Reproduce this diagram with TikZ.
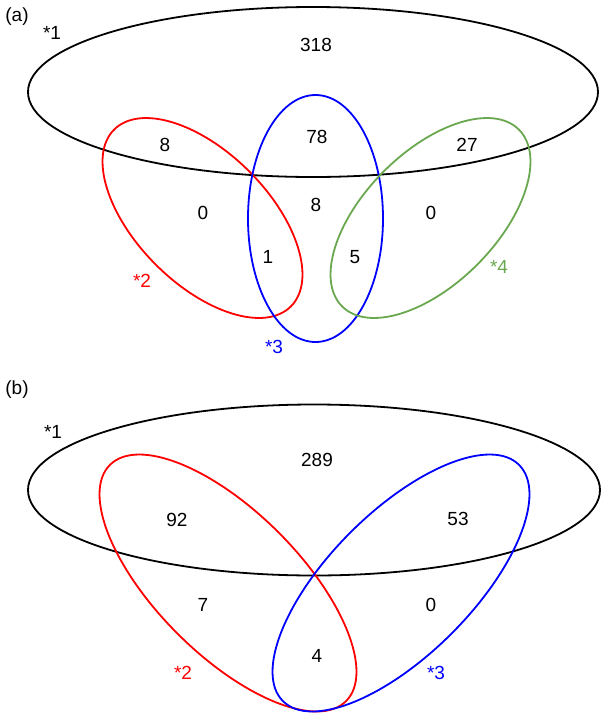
\documentclass[tikz,border=0pt]{standalone}
\usepackage{fontspec}
\setmainfont{Liberation Sans}
\definecolor{vgreen}{RGB}{106,168,79}
\begin{document}
\begin{tikzpicture}[x=1pt,y=1pt,
  venn/.style={line width=1.8pt},
  lbl/.style={font=\fontsize{19}{22}\selectfont, inner sep=0pt}]
\useasboundingbox (0,0) rectangle (602,-713);
% ---------- panel (a)
\node[lbl] (pa) at (17,-17) {(a)};
\draw[venn, black] (313,-92) ellipse (285 and 85);
\draw[venn, red, rotate around={-45:(202.5,-218)}] (202.5,-218) ellipse (125 and 66);
\draw[venn, blue] (315.5,-218.5) ellipse (67.5 and 123.5);
\draw[venn, vgreen, rotate around={45:(430.5,-218)}] (430.5,-218) ellipse (125 and 66);
\node[lbl] (a1) at (52,-33) {*1};
\node[lbl, red] (a2) at (142,-281) {*2};
\node[lbl, blue] (a3) at (274,-347) {*3};
\node[lbl, vgreen] (a4) at (499,-267) {*4};
\node[lbl] (n318) at (316,-45) {318};
\node[lbl] (n8a) at (165,-145) {8};
\node[lbl] (n78) at (317,-137) {78};
\node[lbl] (n27) at (467,-145) {27};
\node[lbl] (n0a) at (203,-213) {0};
\node[lbl] (n8b) at (316,-205) {8};
\node[lbl] (n0b) at (431,-213) {0};
\node[lbl] (n1) at (268,-257) {1};
\node[lbl] (n5) at (355,-257) {5};
% ---------- panel (b)
\node[lbl] (pb) at (17,-390) {(b)};
\draw[venn, black] (314,-490) ellipse (286 and 85.5);
\draw[venn, red, rotate around={-45:(228,-583)}] (228,-583) ellipse (167 and 71.5);
\draw[venn, blue, rotate around={45:(401,-583)}] (401,-583) ellipse (167 and 71.5);
\node[lbl] (b1) at (53,-432) {*1};
\node[lbl, red] (b2) at (183,-673) {*2};
\node[lbl, blue] (b3) at (436,-673) {*3};
\node[lbl] (n289) at (317,-460) {289};
\node[lbl] (n92) at (177,-520) {92};
\node[lbl] (n53) at (458,-519) {53};
\node[lbl] (n7) at (203,-605) {7};
\node[lbl] (n0c) at (431,-605) {0};
\node[lbl] (n4) at (317,-656) {4};
\end{tikzpicture}
\end{document}
